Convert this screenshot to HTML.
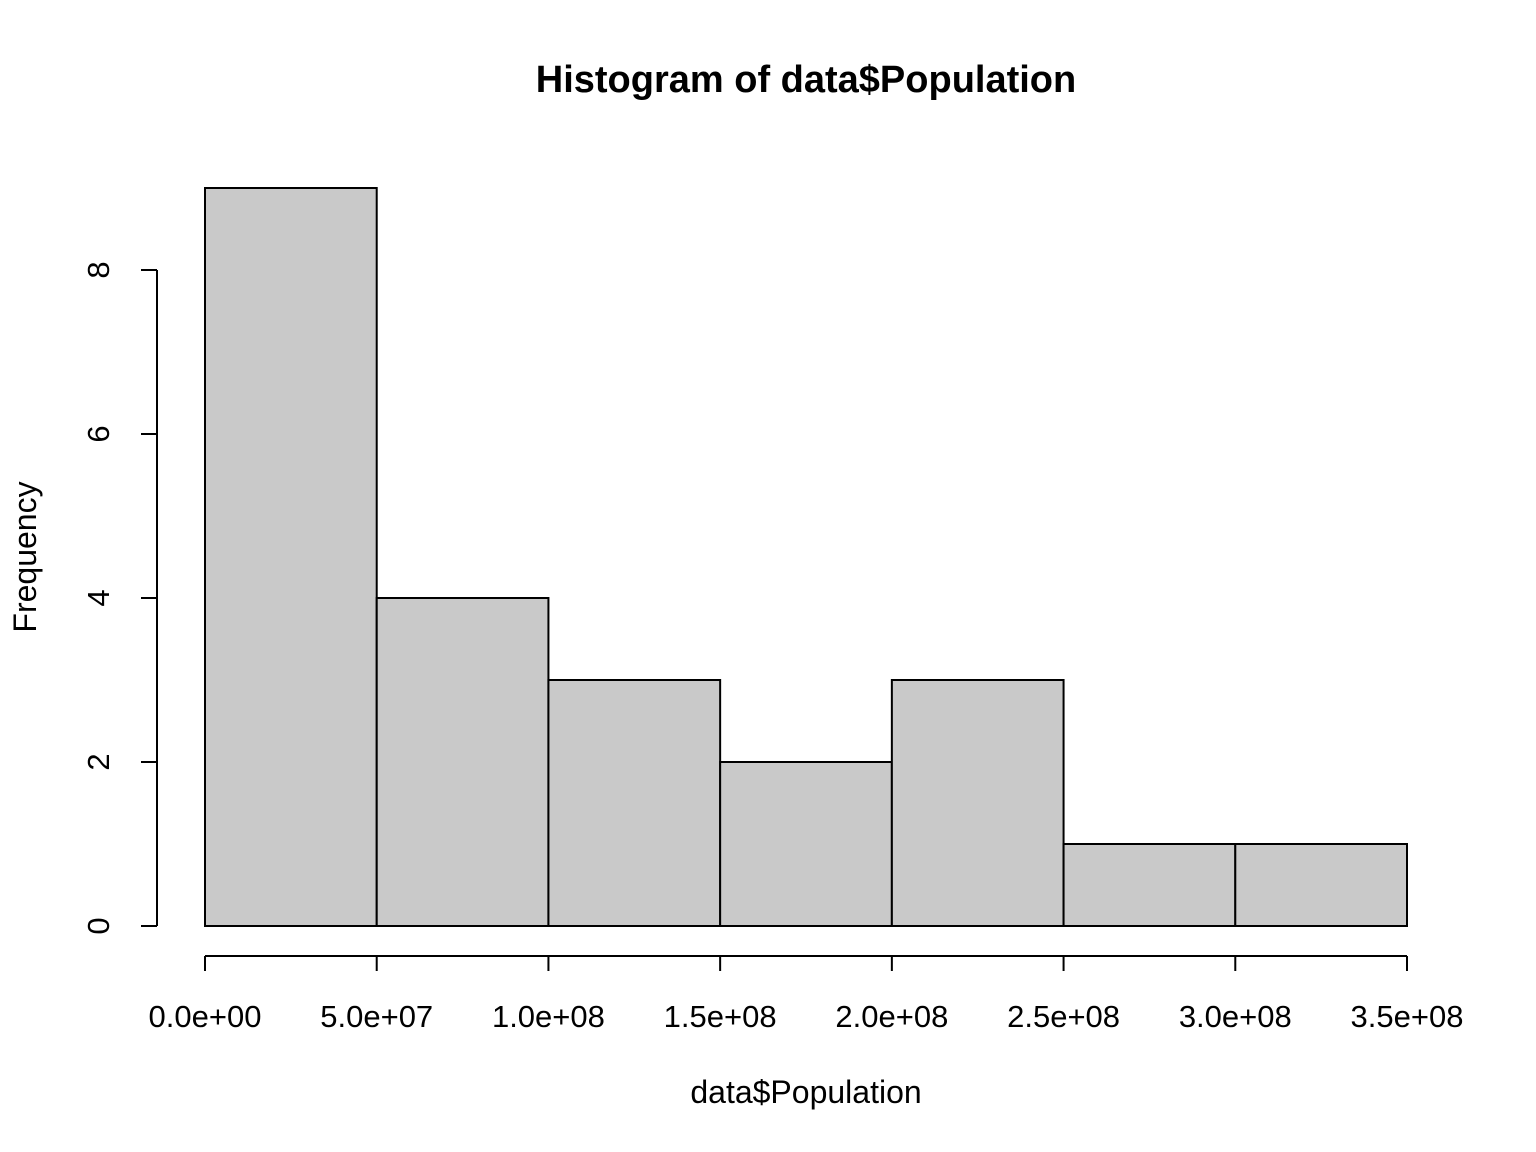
<!DOCTYPE html>
<html><head><meta charset="utf-8"><style>
html,body{margin:0;padding:0;background:#fff;}
svg{display:block;font-family:"Liberation Sans",Arial,sans-serif;}
</style></head><body>
<svg id="chart" width="1536" height="1152" viewBox="0 0 1536 1152" xmlns="http://www.w3.org/2000/svg">
<rect width="1536" height="1152" fill="#fff"/>
<text x="806" y="92" text-anchor="middle" font-size="38" font-weight="bold">Histogram of data$Population</text>
<text x="806" y="1103" text-anchor="middle" font-size="32">data$Population</text>
<text transform="translate(36,557) rotate(-90)" text-anchor="middle" font-size="32">Frequency</text>
<g id="bars"></g><g id="xaxis"></g><g id="yaxis"></g>
</svg>
<script>
const binEdges = [0, 5e7, 1e8, 1.5e8, 2e8, 2.5e8, 3e8, 3.5e8];
const counts = [9, 4, 3, 2, 3, 1, 1];
const xTicks = [0, 5e7, 1e8, 1.5e8, 2e8, 2.5e8, 3e8, 3.5e8];
const xTickLabels = ["0.0e+00","5.0e+07","1.0e+08","1.5e+08","2.0e+08","2.5e+08","3.0e+08","3.5e+08"];
const yTicks = [0, 2, 4, 6, 8];
const yTickLabels = ["0","2","4","6","8"];

const NS = "http://www.w3.org/2000/svg";
const xs = v => 205 + v / 3.5e8 * (1407 - 205);
const ys = v => 926 - v * 82;
function mk(tag, attrs, parent){const e=document.createElementNS(NS,tag);for(const k in attrs)e.setAttribute(k,attrs[k]);parent.appendChild(e);return e;}
const bars=document.getElementById('bars'),xa=document.getElementById('xaxis'),ya=document.getElementById('yaxis');
counts.forEach((c,i)=>{
  const x0=xs(binEdges[i]),x1=xs(binEdges[i+1]);
  const r=mk('rect',{x:x0,y:ys(c),width:x1-x0,height:ys(0)-ys(c),fill:'#c9c9c9',stroke:'#000','stroke-width':2},bars);
  
  
});
const xl=mk('line',{x1:xs(xTicks[0]),x2:xs(xTicks[xTicks.length-1]),y1:956,y2:956,stroke:'#000','stroke-width':2},xa);


xTicks.forEach((t,i)=>{
  mk('line',{x1:xs(t),x2:xs(t),y1:956,y2:971,stroke:'#000','stroke-width':2},xa);
  const tx=mk('text',{x:xs(t),y:1027,'text-anchor':'middle','font-size':31},xa);
  tx.textContent=xTickLabels[i];
  
  
});
const yl=mk('line',{x1:157,x2:157,y1:ys(yTicks[0]),y2:ys(yTicks[yTicks.length-1]),stroke:'#000','stroke-width':2},ya);


yTicks.forEach((t,i)=>{
  mk('line',{x1:141,x2:157,y1:ys(t),y2:ys(t),stroke:'#000','stroke-width':2},ya);
  const tx=mk('text',{transform:`translate(109,${ys(t)}) rotate(-90)`,'text-anchor':'middle','font-size':31},ya);
  tx.textContent=yTickLabels[i];
  
  
});
</script>
</body></html>
